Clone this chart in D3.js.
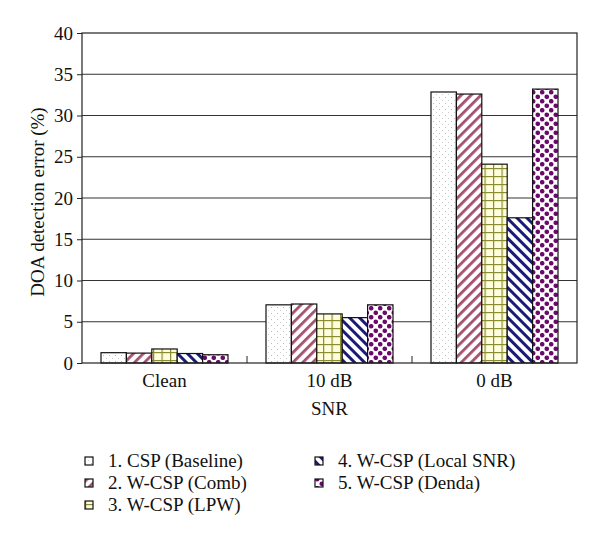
<!DOCTYPE html>
<html><head><meta charset="utf-8">
<script src="https://cdnjs.cloudflare.com/ajax/libs/d3/7.8.5/d3.min.js"></script>
<style>body{margin:0;background:#fff;} text{font-family:"Liberation Serif","DejaVu Serif",serif;fill:#111;}</style>
</head><body><svg id="c" width="600" height="548"></svg>
<script>
const categories = ["Clean", "10 dB", "0 dB"];
const seriesNames = ["1. CSP (Baseline)", "2. W-CSP (Comb)", "3. W-CSP (LPW)", "4. W-CSP (Local SNR)", "5. W-CSP (Denda)"];
const csp      = [1.25, 7.05, 32.85];
const wcspComb = [1.2, 7.15, 32.6];
const wcspLPW  = [1.7, 5.95, 24.1];
const wcspLocal= [1.15, 5.5, 17.6];
const wcspDenda= [1.0, 7.05, 33.2];
const seriesValues = [csp, wcspComb, wcspLPW, wcspLocal, wcspDenda];
const yTicks = [0, 5, 10, 15, 20, 25, 30, 35, 40];

const svg = d3.select("#c");
const m = {l:82, t:33, r:577, b:363};
const x = d3.scaleBand().domain(categories).range([m.l, m.r]).paddingInner(0).paddingOuter(0);
const y = d3.scaleLinear().domain([0, 40]).range([m.b, m.t]);
const FS = "19px";

const defs = svg.append("defs");
// pattern 1: dots
let p = defs.append("pattern").attr("id","p0").attr("patternUnits","userSpaceOnUse").attr("width",6).attr("height",6);
p.append("rect").attr("width",6).attr("height",6).attr("fill","#fff");
p.append("rect").attr("x",1).attr("y",1).attr("width",1).attr("height",1).attr("fill","#bbb");
p.append("rect").attr("x",4).attr("y",4).attr("width",1).attr("height",1).attr("fill","#ccc");
// pattern 2: maroon / stripes
p = defs.append("pattern").attr("id","p1").attr("patternUnits","userSpaceOnUse").attr("width",7).attr("height",7).attr("patternTransform","rotate(45)");
p.append("rect").attr("width",7).attr("height",7).attr("fill","#fff");
p.append("rect").attr("x",0).attr("width",2.8).attr("height",7).attr("fill","#a3506f");
// pattern 3: yellow grid
p = defs.append("pattern").attr("id","p2").attr("patternUnits","userSpaceOnUse").attr("width",8.5).attr("height",8);
p.append("rect").attr("width",8.5).attr("height",8).attr("fill","#ffffe0");
p.append("rect").attr("x",0).attr("y",0).attr("width",1.2).attr("height",8).attr("fill","#8c8c30");
p.append("rect").attr("x",0).attr("y",0).attr("width",8.5).attr("height",1.2).attr("fill","#8c8c30");
// pattern 4: navy \ stripes
p = defs.append("pattern").attr("id","p3").attr("patternUnits","userSpaceOnUse").attr("width",7).attr("height",7).attr("patternTransform","rotate(-45)");
p.append("rect").attr("width",7).attr("height",7).attr("fill","#fff");
p.append("rect").attr("x",0).attr("width",3).attr("height",7).attr("fill","#1a1a78");
// pattern 5: purple dots
p = defs.append("pattern").attr("id","p4").attr("patternUnits","userSpaceOnUse").attr("width",9).attr("height",9);
p.append("rect").attr("width",9).attr("height",9).attr("fill","#fff");
p.append("circle").attr("cx",2.25).attr("cy",2.25).attr("r",2.3).attr("fill","#6a0a6a");
p.append("circle").attr("cx",6.75).attr("cy",6.75).attr("r",2.3).attr("fill","#6a0a6a");

// gridlines
svg.append("g").selectAll("line").data(yTicks.filter(d=>d>0 && d<40)).join("line")
  .attr("x1",m.l).attr("x2",m.r).attr("y1",d=>y(d)).attr("y2",d=>y(d))
  .attr("stroke","#333").attr("stroke-width",1);

// bars
const barW = 25.4;
const groupOff = (x.bandwidth() - barW*5)/2;
const g = svg.append("g");
categories.forEach((c, ci) => {
  seriesValues.forEach((vals, si) => {
    g.append("rect")
      .attr("x", x(c) + groupOff + si*barW)
      .attr("y", y(vals[ci]))
      .attr("width", barW)
      .attr("height", y(0) - y(vals[ci]))
      .attr("fill", `url(#p${si})`)
      .attr("stroke","#111").attr("stroke-width",1.2);
  });
});

// frame
svg.append("rect").attr("x",m.l).attr("y",m.t).attr("width",m.r-m.l).attr("height",m.b-m.t)
  .attr("fill","none").attr("stroke","#222").attr("stroke-width",1.2);

// y axis
const yAxis = d3.axisLeft(y).tickValues(yTicks).tickSize(5).tickPadding(4);
const ya = svg.append("g").attr("transform",`translate(${m.l},0)`).call(yAxis);
ya.select(".domain").remove();
ya.selectAll("line").attr("stroke","#222");
ya.selectAll("text").style("font-size",FS).attr("fill","#111").style("font-family","Liberation Serif, serif");

// x axis category ticks (inward)
svg.append("g").selectAll("line").data(categories.slice(1)).join("line")
  .attr("x1",d=>x(d)).attr("x2",d=>x(d)).attr("y1",m.b).attr("y2",m.b-7).attr("stroke","#222");
svg.append("g").selectAll("text").data(categories).join("text")
  .attr("x",d=>x(d)+x.bandwidth()/2).attr("y",m.b+24).attr("text-anchor","middle")
  .style("font-size",FS).text(d=>d);

svg.append("text").attr("x",(m.l+m.r)/2).attr("y",415).attr("text-anchor","middle").style("font-size",FS).text("SNR");
svg.append("text").attr("transform",`translate(44,${(m.t+m.b)/2 + 4}) rotate(-90)`).attr("text-anchor","middle").style("font-size",FS).text("DOA detection error (%)");

// legend
const legPos = [[85,461],[85,483],[85,505],[315,461],[315,483]];
seriesNames.forEach((n,i)=>{
  const [lx,ly] = legPos[i];
  svg.append("rect").attr("x",lx).attr("y",ly-4).attr("width",8).attr("height",8)
    .attr("fill",`url(#p${i})`).attr("stroke","#111").attr("stroke-width",1.2);
  svg.append("text").attr("x",lx+23).attr("y",ly+6).style("font-size",FS).text(n);
});
</script></body></html>
